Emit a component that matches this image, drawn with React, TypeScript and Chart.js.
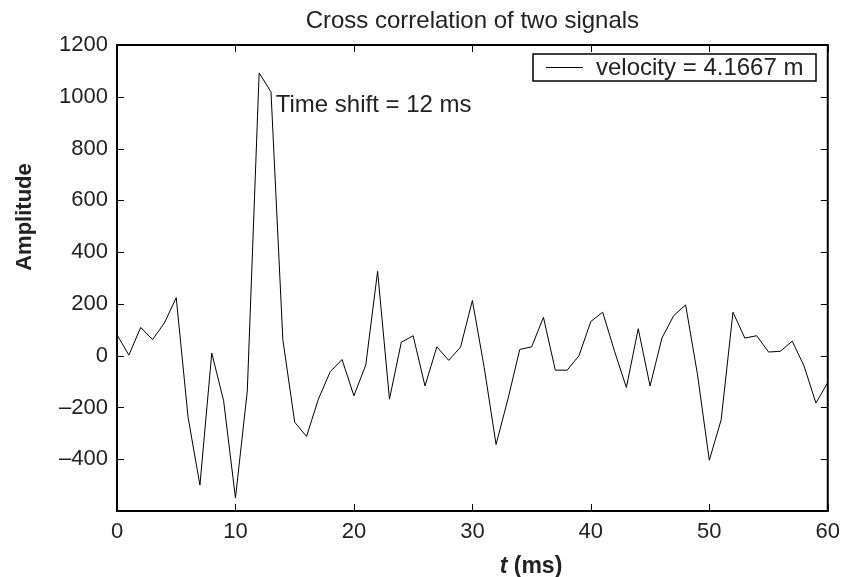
import React, { useEffect, useRef } from "react";
import { Chart, registerables } from "chart.js";

Chart.register(...registerables);

const tValues = [0, 1, 2, 3, 4, 5, 6, 7, 8, 9, 10, 11, 12, 13, 14, 15, 16, 17, 18, 19, 20, 21, 22, 23, 24, 25, 26, 27, 28, 29, 30, 31, 32, 33, 34, 35, 36, 37, 38, 39, 40, 41, 42, 43, 44, 45, 46, 47, 48, 49, 50, 51, 52, 53, 54, 55, 56, 57, 58, 59, 60];
const amplitude = [81, 2, 109, 62, 126, 224, -238, -500, 10, -174, -550, -136, 1092, 1019, 62, -257, -312, -168, -62, -15, -155, -36, 326, -168, 52, 77, -117, 34, -18, 33, 213, -46, -343, -168, 24, 34, 148, -56, -56, 0, 132, 168, 17, -123, 104, -117, 68, 155, 196, -72, -404, -248, 168, 68, 77, 14, 17, 56, -40, -183, -104];
const xTicks = [0, 10, 20, 30, 40, 50, 60];
const yTicks = [-400, -200, 0, 200, 400, 600, 800, 1000, 1200];
const titleText = "Cross correlation of two signals";
const yLabel = "Amplitude";
const xLabelItalic = "t";
const xLabelRest = " (ms)";
const legendLabel = "velocity = 4.1667 m";
const annotationText = "Time shift = 12 ms";
const annotationAt = { x: 13.4, y: 965 };

const FONT = "'Liberation Sans', Arial, Helvetica, sans-serif";
const TEXT = "#222";

const decorPlugin = {
  id: "decor",
  afterDraw(chart: any) {
    const ctx = chart.ctx as CanvasRenderingContext2D;
    const a = chart.chartArea;
    const xs = chart.scales.x;
    const ys = chart.scales.y;
    ctx.save();
    // inward ticks
    ctx.strokeStyle = "#000";
    ctx.lineWidth = 1;
    ctx.beginPath();
    const tl = 7;
    for (const v of yTicks) {
      const py = Math.round(ys.getPixelForValue(v)) + 0.5;
      ctx.moveTo(a.left, py);
      ctx.lineTo(a.left + tl, py);
      ctx.moveTo(a.right, py);
      ctx.lineTo(a.right - tl, py);
    }
    for (const v of xTicks) {
      const px = Math.round(xs.getPixelForValue(v)) + 0.5;
      ctx.moveTo(px, a.bottom);
      ctx.lineTo(px, a.bottom - tl);
      ctx.moveTo(px, a.top);
      ctx.lineTo(px, a.top + tl);
    }
    ctx.stroke();
    // box
    ctx.lineWidth = 2;
    ctx.strokeRect(a.left, a.top, a.right - a.left, a.bottom - a.top);

    ctx.fillStyle = TEXT;
    // title
    ctx.font = `24px ${FONT}`;
    ctx.textAlign = "center";
    ctx.textBaseline = "alphabetic";
    ctx.fillText(titleText, (a.left + a.right) / 2, 28);

    // y label
    ctx.save();
    ctx.translate(31, 217);
    ctx.rotate(-Math.PI / 2);
    ctx.font = `bold 22px ${FONT}`;
    ctx.textAlign = "center";
    ctx.textBaseline = "alphabetic";
    ctx.fillText(yLabel, 0, 0);
    ctx.restore();

    // x label
    ctx.textAlign = "left";
    ctx.textBaseline = "alphabetic";
    ctx.font = `italic bold 23px ${FONT}`;
    const w1 = ctx.measureText(xLabelItalic).width;
    ctx.font = `bold 23px ${FONT}`;
    const w2 = ctx.measureText(xLabelRest).width;
    const xStart = 531 - (w1 + w2) / 2;
    ctx.font = `italic bold 23px ${FONT}`;
    ctx.fillText(xLabelItalic, xStart, 573);
    ctx.font = `bold 23px ${FONT}`;
    ctx.fillText(xLabelRest, xStart + w1, 573);

    // annotation
    ctx.font = `24px ${FONT}`;
    ctx.textAlign = "left";
    ctx.textBaseline = "middle";
    ctx.fillText(annotationText, xs.getPixelForValue(annotationAt.x), ys.getPixelForValue(annotationAt.y));

    // legend
    ctx.fillStyle = "#fff";
    ctx.fillRect(533, 54, 283, 27);
    ctx.strokeStyle = "#000";
    ctx.lineWidth = 1.5;
    ctx.strokeRect(533, 54, 283, 27);
    ctx.lineWidth = 1;
    ctx.beginPath();
    ctx.moveTo(546, 67.5);
    ctx.lineTo(583, 67.5);
    ctx.stroke();
    ctx.fillStyle = TEXT;
    ctx.font = `24px ${FONT}`;
    ctx.textBaseline = "middle";
    ctx.fillText(legendLabel, 596, 68);
    ctx.restore();
  },
};

export default function App() {
  const ref = useRef<HTMLCanvasElement | null>(null);
  useEffect(() => {
    document.body.style.margin = "0";
    const canvas = ref.current;
    if (!canvas) return;
    const chart = new Chart(canvas, {
      type: "line",
      data: {
        datasets: [
          {
            label: legendLabel,
            data: tValues.map((t, i) => ({ x: t, y: amplitude[i] })),
            borderColor: "#000",
            borderWidth: 1,
            pointRadius: 0,
            tension: 0,
            fill: false,
          },
        ],
      },
      options: {
        animation: false,
        responsive: false,
        events: [],
        layout: { padding: { left: 0, right: 20, top: 45, bottom: 0 } },
        plugins: {
          legend: { display: false },
          title: { display: false },
          tooltip: { enabled: false },
        },
        scales: {
          x: {
            type: "linear",
            min: 0,
            max: 60,
            grid: { display: false, drawTicks: false },
            border: { display: false },
            afterFit: (s: any) => {
              s.height = 66;
            },
            afterBuildTicks: (s: any) => {
              s.ticks = xTicks.map((v) => ({ value: v }));
            },
            ticks: {
              color: TEXT,
              font: { family: FONT, size: 22 },
              padding: 8,
              maxRotation: 0,
              autoSkip: false,
            },
          },
          y: {
            type: "linear",
            min: -600,
            max: 1200,
            grid: { display: false, drawTicks: false },
            border: { display: false },
            afterFit: (s: any) => {
              s.width = 117;
            },
            afterBuildTicks: (s: any) => {
              s.ticks = yTicks.map((v) => ({ value: v }));
            },
            ticks: {
              color: TEXT,
              font: { family: FONT, size: 22 },
              padding: 9,
              autoSkip: false,
              callback: (v: any) => String(v).replace("-", "\u2013"),
            },
          },
        },
      },
      plugins: [decorPlugin],
    });
    return () => chart.destroy();
  }, []);
  return <canvas ref={ref} width={848} height={577} style={{ display: "block" }} />;
}
